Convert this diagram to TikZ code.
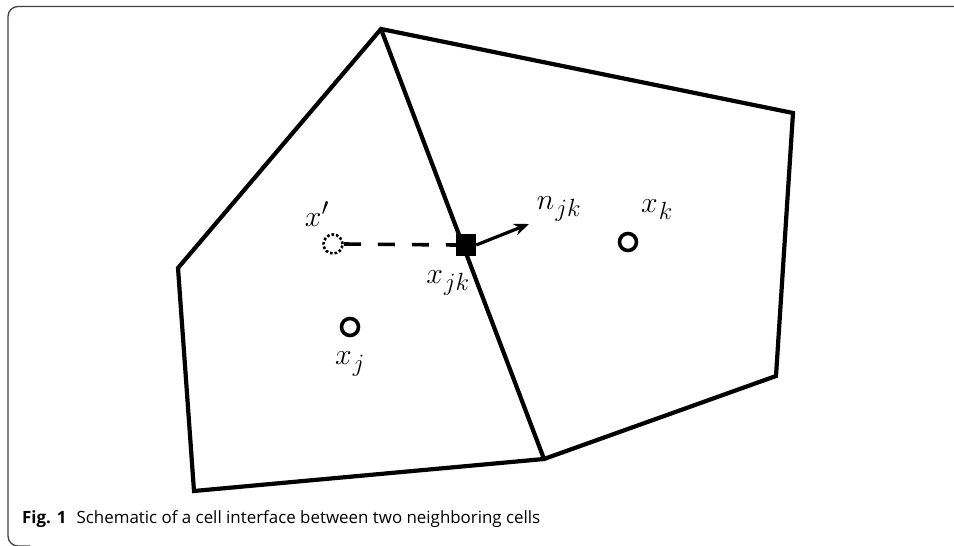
\documentclass[tikz,border=0pt]{standalone}
\usepackage{graphicx}
\usepackage{fontspec}
\newfontfamily\capfont{Open Sans}
\usetikzlibrary{arrows.meta}
\newcommand{\biglab}[1]{\scalebox{1.2}{$#1$}}
\begin{document}
\begin{tikzpicture}[x=1pt,y=-1pt,
  edge/.style={line width=4.2pt, line join=miter},
  centre/.style={circle, draw, line width=3.6pt, minimum size=17pt, inner sep=0pt},
  ghost/.style={circle, draw, dotted, line width=2.6pt, minimum size=19pt, inner sep=0pt},
  face/.style={rectangle, fill=black, minimum width=20pt, minimum height=22pt, inner sep=0pt},
  lab/.style={inner sep=0pt, font=\fontsize{24.88}{30}\selectfont},
  frame/.style={line width=1.3pt, draw=black!75},
  captext/.style={anchor=west, inner sep=0pt, font=\capfont\fontsize{16.9}{20}\selectfont}]
\useasboundingbox (0,0) rectangle (954,546);
% frame
\draw[frame, rounded corners=10pt] (954,6.5) -- (8,6.5) -- (8,546) -- (30,546);
% vertices
\coordinate (A) at (381,29);
\coordinate (B) at (793,113);
\coordinate (C) at (776,376);
\coordinate (D) at (544,459);
\coordinate (E) at (194,491);
\coordinate (F) at (178,268);
\draw[edge] (D) -- (E) -- (F) -- (A) -- (B) -- (C) -- cycle;
\draw[edge] (A) -- (D);
% nodes
\node[ghost] (xp) at (333,244) {};
\node[face] (xjk) at (466,245) {};
\node[centre] (xk) at (628,242) {};
\node[centre] (xj) at (350,327) {};
\coordinate (ntip) at (529,224);
\draw[line width=3.6pt, dash pattern=on 17pt off 17pt] (xp.east) -- (xjk.west);
\draw[line width=3.2pt, -{Stealth[length=15pt,width=12pt]}] (xjk.east) -- (ntip);
% labels
\node[lab] (lxp) at (317,214) {\biglab{x'}};
\node[lab] (lxjk) at (448,283) {\biglab{x_{\kern1pt jk}}};
\node[lab] (lnjk) at (559,209) {\biglab{n_{\kern1pt jk}}};
\node[lab] (lxk) at (657,210) {\biglab{x_{\kern1pt k}}};
\node[lab] (lxj) at (350,364) {\biglab{x_{\kern1pt j}}};
% caption
\node[captext] (caption) at (22,519) {\textbf{Fig. 1}\hspace{0.6em}Schematic of a cell interface between two neighboring cells};
\end{tikzpicture}
\end{document}
